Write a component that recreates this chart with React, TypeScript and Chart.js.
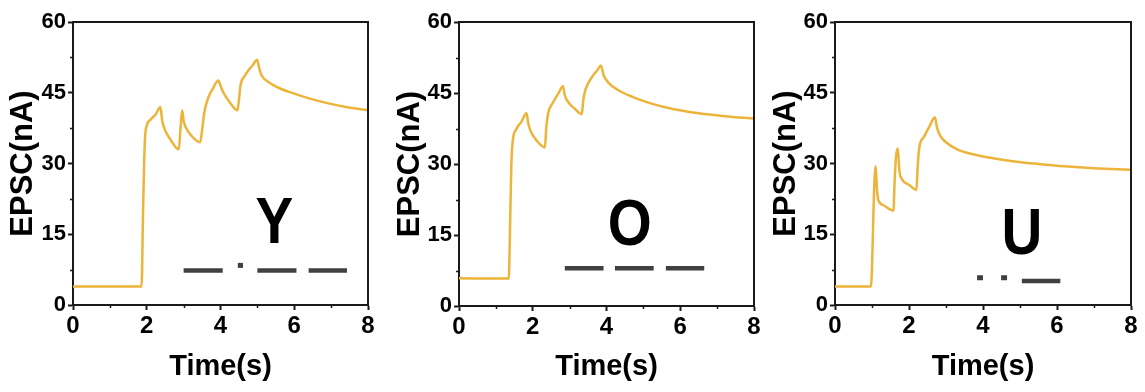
import React, { useEffect, useRef } from 'react';
import { Chart, registerables } from 'chart.js';

Chart.register(...registerables);

// ---------- data ----------
const timeY = [0, 1.86, 1.9, 1.95, 2.0, 2.1, 2.25, 2.37, 2.42, 2.5, 2.65, 2.87, 2.92, 2.96, 3.0, 3.05, 3.2, 3.45, 3.5, 3.56, 3.67, 3.8, 3.94, 4.0, 4.08, 4.25, 4.46, 4.5, 4.54, 4.65, 4.76, 4.88, 4.99, 5.05, 5.12, 5.3, 5.62, 6.0, 6.4, 6.9, 7.4, 8.0];
const epscY = [3.9, 3.9, 20, 35, 38, 39.3, 40.5, 42, 39, 37, 35, 33.0, 38, 41.3, 39, 37.8, 36, 34.5, 37, 40.8, 44, 46, 47.6, 46.5, 45, 43, 41.3, 43.5, 46.5, 48.5, 49.8, 50.9, 52, 50.2, 48.6, 47.3, 45.9, 44.8, 43.8, 42.8, 42.0, 41.3];

const timeO = [0, 1.35, 1.38, 1.42, 1.46, 1.55, 1.7, 1.83, 1.88, 1.95, 2.1, 2.33, 2.37, 2.42, 2.55, 2.7, 2.82, 2.87, 2.95, 3.15, 3.33, 3.37, 3.43, 3.6, 3.75, 3.85, 3.92, 4.05, 4.3, 4.7, 5.2, 5.8, 6.5, 7.2, 8.0];
const epscO = [5.85, 5.8, 15, 30, 35, 37.3, 39, 40.8, 38.5, 36.8, 35, 33.5, 38, 40.8, 43, 45, 46.4, 44.5, 43.2, 41.6, 40.5, 43.5, 45.7, 48.3, 49.8, 50.8, 48.8, 47.2, 45.7, 44.2, 42.8, 41.6, 40.7, 40.1, 39.6];

const timeU = [0, 0.97, 1.0, 1.04, 1.07, 1.1, 1.13, 1.17, 1.3, 1.58, 1.61, 1.65, 1.7, 1.74, 1.8, 2.0, 2.2, 2.24, 2.28, 2.4, 2.55, 2.7, 2.76, 2.85, 3.0, 3.3, 3.7, 4.2, 4.8, 5.5, 6.2, 7.0, 8.0];
const epscU = [3.9, 3.9, 8, 20, 27, 29.4, 25, 22.3, 21.2, 20, 26, 31.5, 33.2, 28.5, 26.8, 25.5, 24.4, 30, 33.5, 35.6, 37.8, 39.8, 37.5, 35.8, 34.5, 33.0, 32.0, 31.2, 30.5, 29.9, 29.4, 29.0, 28.7];

// bar code (dashes / dots) drawn under each letter: [start, end] in seconds
const dashesY = [[3.0, 4.06], [5.0, 6.06], [6.39, 7.43]];
const dotsY = [[4.47, 4.61]];
const dashesO = [[2.87, 3.92], [4.23, 5.28], [5.61, 6.65]];
const dotsO: number[][] = [];
const dashesU = [[5.05, 6.09]];
const dotsU = [[3.84, 4.0], [4.49, 4.65]];

const letters = ['Y', 'O', 'U'];

const xTickStep = 2;
const yTickStep = 15;
const xMax = 8;
const yMax = 60;
const xAxisTitle = 'Time(s)';
const yAxisTitle = 'EPSC(nA)';

// ---------- layout / style ----------
const LINE_COLOR = '#EDB43B';
const BAR_COLOR = '#404040';
const AXIS_COLOR = '#1a1a1a';
const FONT = "'Liberation Sans', Arial, sans-serif";
const CANVAS_H = 392;

type PanelCfg = {
  left: number; width: number; axisW: number; rightPad: number; bottom: number; titlePad: number;
  time: number[]; epsc: number[]; dashes: number[][]; dots: number[][];
  dashLevel: number; dotLevel: number; letter: string; letterX: number; letterY: number;
};

const panels: PanelCfg[] = [
  { left: 0, width: 385, axisW: 73, rightPad: 17, bottom: 87, titlePad: 5, time: timeY, epsc: epscY, dashes: dashesY, dots: dotsY, dashLevel: 7.3, dotLevel: 8.4, letter: letters[0], letterX: 5.46, letterY: 13.1 },
  { left: 385, width: 380, axisW: 74, rightPad: 11, bottom: 86, titlePad: 7, time: timeO, epsc: epscO, dashes: dashesO, dots: dotsO, dashLevel: 8.0, dotLevel: 8.0, letter: letters[1], letterX: 4.63, letterY: 12.9 },
  { left: 765, width: 380, axisW: 70, rightPad: 14, bottom: 87, titlePad: 3, time: timeU, epsc: epscU, dashes: dashesU, dots: dotsU, dashLevel: 5.1, dotLevel: 5.8, letter: letters[2], letterX: 5.05, letterY: 10.8 },
];

function segPoints(segs: number[][], level: number) {
  const pts: { x: number; y: number | null }[] = [];
  segs.forEach(([a, b], i) => {
    if (i > 0) pts.push({ x: (a + segs[i - 1][1]) / 2, y: null });
    pts.push({ x: a, y: level });
    pts.push({ x: b, y: level });
  });
  return pts;
}

function Panel({ cfg }: { cfg: PanelCfg }) {
  const ref = useRef<HTMLCanvasElement | null>(null);
  useEffect(() => {
    if (!ref.current) return;
    const decor = {
      id: 'decor',
      afterDraw(chart: any) {
        const { ctx, chartArea: a, scales } = chart;
        const xs = scales.x, ys = scales.y;
        ctx.save();
        // frame top/right
        ctx.strokeStyle = AXIS_COLOR;
        ctx.lineWidth = 2;
        ctx.beginPath();
        ctx.moveTo(a.left, a.top);
        ctx.lineTo(a.right, a.top);
        ctx.lineTo(a.right, a.bottom);
        ctx.stroke();
        // minor ticks
        ctx.lineWidth = 1.5;
        ctx.beginPath();
        for (let v = yTickStep / 2; v < yMax; v += yTickStep) {
          const py = Math.round(ys.getPixelForValue(v)) + 0.5;
          ctx.moveTo(a.left, py);
          ctx.lineTo(a.left - 3, py);
        }
        for (let v = xTickStep / 2; v < xMax; v += xTickStep) {
          const px = Math.round(xs.getPixelForValue(v)) + 0.5;
          ctx.moveTo(px, a.bottom);
          ctx.lineTo(px, a.bottom + 3);
        }
        ctx.stroke();
        // letter
        ctx.fillStyle = '#000';
        ctx.font = `bold 65px ${FONT}`;
        ctx.textAlign = 'center';
        ctx.textBaseline = 'alphabetic';
        ctx.translate(xs.getPixelForValue(cfg.letterX), ys.getPixelForValue(cfg.letterY));
        ctx.scale(0.87, 1);
        ctx.fillText(cfg.letter, 0, 0);
        ctx.restore();
      },
    };

    const chart = new Chart(ref.current, {
      type: 'line',
      data: {
        datasets: [
          {
            data: cfg.time.map((t, i) => ({ x: t, y: cfg.epsc[i] })),
            borderColor: LINE_COLOR,
            borderWidth: 2.5,
            pointRadius: 0,
            cubicInterpolationMode: 'monotone',
            fill: false,
          },
          {
            data: segPoints(cfg.dashes, cfg.dashLevel),
            borderColor: BAR_COLOR,
            borderWidth: 4.5,
            borderCapStyle: 'butt',
            pointRadius: 0,
            spanGaps: false,
            tension: 0,
          },
          {
            data: segPoints(cfg.dots, cfg.dotLevel),
            borderColor: BAR_COLOR,
            borderWidth: 5,
            borderCapStyle: 'butt',
            pointRadius: 0,
            spanGaps: false,
            tension: 0,
          },
        ],
      } as any,
      options: {
        animation: false,
        responsive: false,
        devicePixelRatio: 1,
        layout: { padding: { left: 0, top: 22, right: cfg.rightPad, bottom: 0 } },
        plugins: { legend: { display: false }, tooltip: { enabled: false } },
        scales: {
          x: {
            type: 'linear',
            min: 0,
            max: xMax,
            afterFit: (s: any) => { s.height = cfg.bottom; },
            ticks: { stepSize: xTickStep, color: '#000', font: { family: FONT, weight: 'bold', size: 24 }, padding: 2, maxRotation: 0 },
            grid: { display: true, drawOnChartArea: false, drawTicks: true, tickLength: 5, tickWidth: 2, tickColor: AXIS_COLOR },
            border: { display: true, color: AXIS_COLOR, width: 2 },
            title: { display: true, text: xAxisTitle, color: '#000', font: { family: FONT, weight: 'bold', size: 29 }, padding: { top: 0, bottom: 8 } },
          },
          y: {
            type: 'linear',
            min: 0,
            max: yMax,
            afterFit: (s: any) => { s.width = cfg.axisW; },
            ticks: { stepSize: yTickStep, color: '#000', font: { family: FONT, weight: 'bold', size: 22 }, padding: 2 },
            grid: { display: true, drawOnChartArea: false, drawTicks: true, tickLength: 5, tickWidth: 2, tickColor: AXIS_COLOR },
            border: { display: true, color: AXIS_COLOR, width: 2 },
            title: { display: true, text: yAxisTitle, color: '#000', font: { family: FONT, weight: 'bold', size: 31 }, padding: { top: cfg.titlePad, bottom: 0 } },
          },
        },
      } as any,
      plugins: [decor],
    });
    return () => chart.destroy();
  }, [cfg]);
  return (
    <canvas
      ref={ref}
      width={cfg.width}
      height={CANVAS_H}
      style={{ position: 'absolute', left: cfg.left, top: 0, width: cfg.width, height: CANVAS_H, display: 'block' }}
    />
  );
}

export default function App() {
  return (
    <div style={{ position: 'absolute', left: 0, top: 0, width: 1145, height: CANVAS_H, background: '#fff' }}>
      {panels.map((p, i) => <Panel key={i} cfg={p} />)}
    </div>
  );
}
